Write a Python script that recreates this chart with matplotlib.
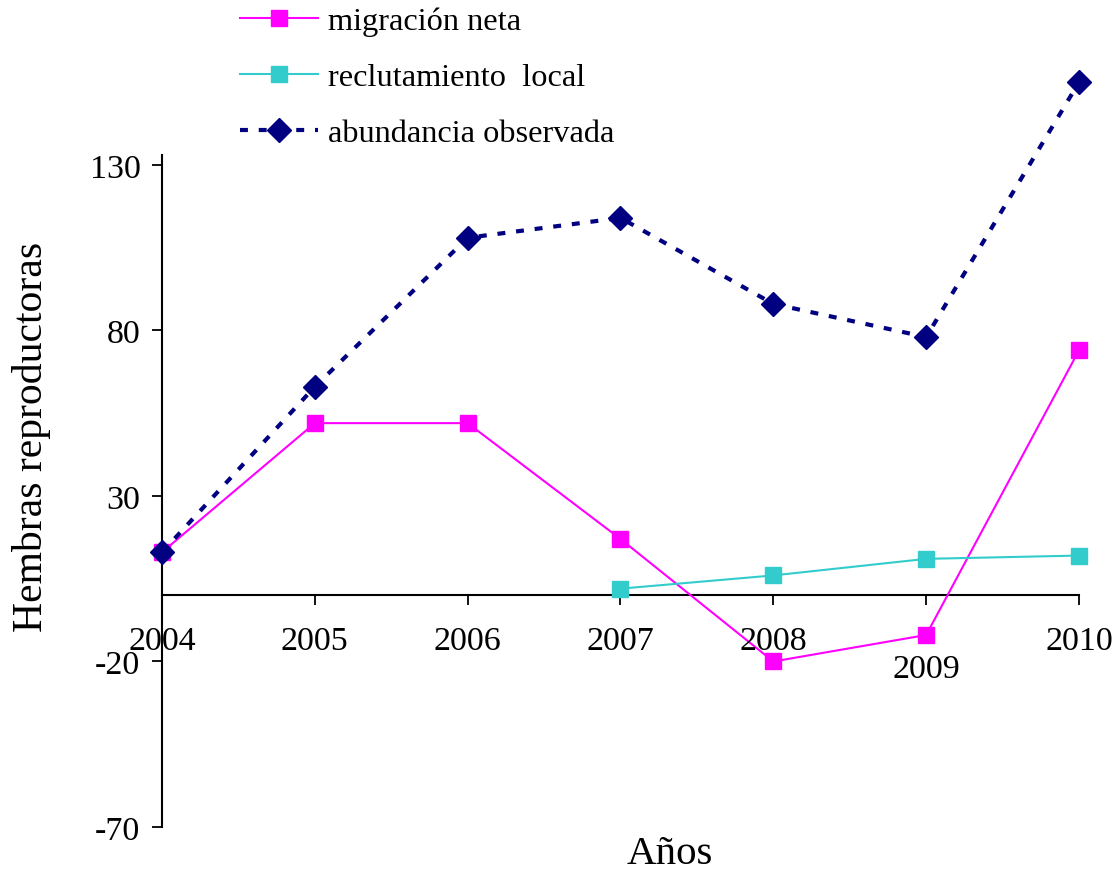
import numpy as np
import matplotlib
matplotlib.use("Agg")
import matplotlib.pyplot as plt
from matplotlib.transforms import offset_copy

plt.rcParams['font.family'] = ['Liberation Serif', 'DejaVu Serif']

years = [2004, 2005, 2006, 2007, 2008, 2009, 2010]
year_labels = ['2004', '2005', '2006', '2007', '2008', '2009', '2010']
migracion_neta = [13, 52, 52, 17, -20, -12, 74]
reclutamiento_local = [None, None, None, 2, 6, 11, 12]
abundancia_observada = [13, 63, 108, 114, 88, 78, 155]
y_ticks = [-70, -20, 30, 80, 130]

series_names = ['migración neta', 'reclutamiento  local', 'abundancia observada']


def as_float(values):
    return np.array([np.nan if v is None else v for v in values], dtype=float)


fig = plt.figure(figsize=(11.2, 8.78), dpi=100)
ax = fig.add_axes([162 / 1120, 1 - 828 / 878, (1079 - 162) / 1120, (828 - 156) / 878])

h1, = ax.plot(years, as_float(migracion_neta), color='#FF00FF', lw=1.5,
              marker='s', ms=12, mec='#FF00FF', mfc='#FF00FF',
              clip_on=False, zorder=3)
h2, = ax.plot(years, as_float(reclutamiento_local), color='#33CCCC', lw=1.5,
              marker='s', ms=12, mec='#33CCCC', mfc='#33CCCC',
              clip_on=False, zorder=3)
h3, = ax.plot(years, as_float(abundancia_observada), color='#000080', lw=3,
              linestyle=(0, (1.9, 2.6)), dash_capstyle='butt',
              marker='D', ms=12, mec='#000080', mfc='#000080',
              clip_on=False, zorder=4)

ax.set_xlim(2004, 2010)
ax.set_ylim(-70, 133)

ax.spines['top'].set_visible(False)
ax.spines['right'].set_visible(False)
ax.spines['bottom'].set_position(('data', 0))
ax.spines['bottom'].set_linewidth(1.5)
ax.spines['left'].set_linewidth(1.5)

ax.set_yticks(y_ticks)
ax.set_yticklabels([str(v) for v in y_ticks])
ax.tick_params(axis='y', direction='out', length=7.5, width=1.3,
               labelsize=24.5, pad=8)

ax.set_xticks(years)
ax.set_xticklabels([])
ax.tick_params(axis='x', direction='out', length=7.5, width=1.3)

# Year labels under the zero line; 2009 is dropped lower to clear its marker
for yr, lab in zip(years, year_labels):
    drop = 58.5 if lab == '2009' else 38.5
    ax.text(yr, 0.0, lab,
            transform=offset_copy(ax.transData, fig=fig, y=-drop, units='points'),
            ha='center', va='baseline', fontsize=24.5)

fig.text(32 / 1120, 1 - 437 / 878, 'Hembras reproductoras', rotation=90,
         ha='center', va='center', fontsize=30)
fig.text(670 / 1120, 1 - 855 / 878, 'Años', ha='center', va='center', fontsize=29.5)

fig.legend([h1, h2, h3], series_names, loc='upper left',
           bbox_to_anchor=(234 / 1120, 1 - 1 / 878), frameon=False,
           fontsize=23.3, handlelength=2.4, handletextpad=0.3, borderpad=0.2,
           borderaxespad=0, labelspacing=0.81)

fig.savefig('out.png', dpi=100)
